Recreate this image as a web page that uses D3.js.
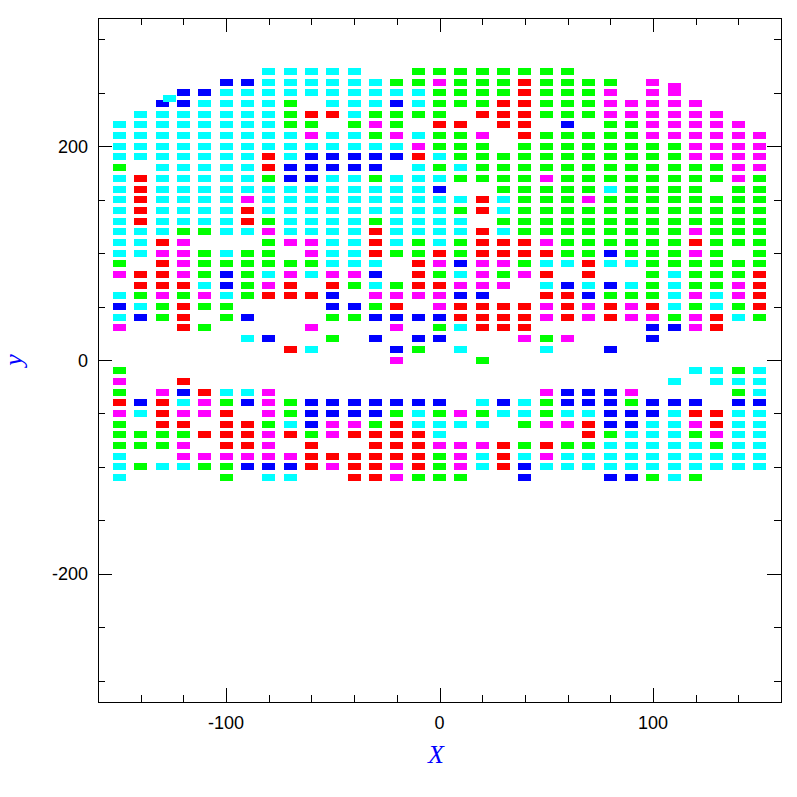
<!DOCTYPE html>
<html><head><meta charset="utf-8">
<script src="https://cdn.jsdelivr.net/npm/d3@7"></script>
<style>html,body{margin:0;padding:0;background:#fff;}</style>
</head><body>
<svg id="chart" width="797" height="797"></svg>
<script>
// column positions (x) and row positions (y) of the cell grid
const columns = [-150,-140,-130,-120,-110,-100,-90,-80,-70,-60,-50,-40,-30,-20,-10,0,10,20,30,40,50,60,70,80,90,100,110,120,130,140,150];
const rows = [270,260,250,240,230,220,210,200,190,180,170,160,150,140,130,120,110,100,90,80,70,60,50,40,30,20,10,0,-10,-20,-30,-40,-50,-60,-70,-80,-90,-100,-110];
// colour class of each cell, one string per row (one char per column, '.' = empty)
const cellCodes = [
  ".......ccccc..gggggggg.........",
  ".....bbccccccggmgggrgggg.m.....",
  "...bbccccccccccggggrgggm.m.....",
  "..bbccccg.cccbcgggrrgggmmmmm...",
  ".cccccccgrrcgggg.rrrgggmmmmmm..",
  "ccccccccgg.gmg.rr.rr.b.ggmmmmm.",
  "cccccccccmccgmcggm.rgggggmmmmmm",
  "ccccccccccccccmggg.ggggggggmmmm",
  "cccccccrcbbbbbrcgggggggggggmmmm",
  "g.cccccrbbbbb.cgcggggggggggggmm",
  "crcccccgbbccgcccggggmggggggggmg",
  "crcccccccccccccb..gggggcgggg.gg",
  "crccccmccccccccccrcgggmgggggggg",
  "crccccrcccccccccgrcgggggggggggg",
  "crccccrgccccgcccc.ggggggggggggg",
  "cccggccmccccrccccrcggggggggmggg",
  "ccrm...gmmccrcgcgrrrmggggggrggg",
  "ccmmgcgg.mccrggrgrrrrggbgggmg.g",
  "g.rmggggggccc.rmbmmgccrccgggggg",
  "mrrmgbgcmcmmb.rgcmgmr.r..gcgggr",
  ".rrrcbgmr.rgcgrrmmm.cbcbcgcggmr",
  "cgmgmcgrrrb.mmmmbb..rrbgggcmcmr",
  "bcgrgg....bbgr.mrrrrmrmrmrcgcgr",
  "cbgr.gb...ggbbbbrrrrmrmrmmgmrcg",
  "m..rg....m...m.gcrrr.....bbmr..",
  "......cb..g.b.bb...mgm...b.....",
  "........rc...bg.c...c..b.......",
  ".............m...g.............",
  "g..........................ccgc",
  "m..r......................c.ccc",
  "g.mbrccm............mbbbm....gc",
  "rbrcmgbmgbbbbbbb.cbcgbbbgbbb.bb",
  "mcrmmr.mgbbbbgcgmgccgccbbbcrrcc",
  "g.rr.rrgcbmmgrcccc.gmmrbbccmrcc",
  "ggggrrrmrgmrrrrc......rgcccgmcc",
  "gggm.rrm.r..rrrmmmrgrggcccccgcc",
  "c..mmmmmmrrrrrrgmcrcmcccccccccc",
  "cgccggbbbrmrrmrgmcrbccccccccccc",
  "c....g.cc..rrmggg..b...bbgcg..."
];
// odd cells lying off the grid
const extraX = [-126.5, 110, 110];
const extraY = [245, 256, 250];
const extraCodes = ["c", "m", "m"];
// colour classes
const colorKeys = ["c", "g", "r", "m", "b"];
const colorValues = ["#00ffff", "#00ff00", "#ff0000", "#ff00ff", "#0000ff"];
// axis ticks
const xMajorTicks = [-100, 0, 100];
const xMinorTicks = [-140,-120,-80,-60,-40,-20,20,40,60,80,120,140];
const yMajorTicks = [-200, 0, 200];
const yMinorTicks = [-300,-250,-150,-100,-50,50,100,150,250,300];

// ---- drawing ----
const svg = d3.select("#chart");
const L = 98, R = 781, T = 18, B = 702;
const x = d3.scaleLinear().domain([-160, 160]).range([L, R]);
const y = d3.scaleLinear().domain([-320, 320]).range([B, T]);
const color = d3.scaleOrdinal().domain(colorKeys).range(colorValues);

const cells = [];
rows.forEach((ry, i) => {
  const s = cellCodes[i];
  columns.forEach((cx, k) => {
    const ch = s[k];
    if (ch && ch !== ".") cells.push({x: cx, y: ry, c: ch});
  });
});
extraX.forEach((ex, i) => cells.push({x: ex, y: extraY[i], c: extraCodes[i]}));

const CW = 13, CH = 7;
svg.append("g").selectAll("rect").data(cells).join("rect")
  .attr("x", d => x(d.x) - CW / 2)
  .attr("y", d => y(d.y) - CH / 2)
  .attr("width", CW).attr("height", CH)
  .attr("fill", d => color(d.c))
  .attr("shape-rendering", "crispEdges");

// frame
svg.append("rect").attr("x", L).attr("y", T).attr("width", R - L).attr("height", B - T)
  .attr("fill", "none").attr("stroke", "#000").attr("stroke-width", 1)
  .attr("shape-rendering", "crispEdges");

function tickStyle(g) {
  g.select(".domain").remove();
  g.selectAll(".tick line").attr("stroke", "#000").attr("shape-rendering", "crispEdges");
}
const MAJ = 14, MIN = 7;
function addTicks(axisFn, scale, pos, values, size) {
  svg.append("g").attr("transform", pos)
    .call(axisFn(scale).tickValues(values).tickSize(-size).tickFormat(""))
    .call(tickStyle);
}
addTicks(d3.axisBottom, x, `translate(0,${B})`, xMajorTicks, MAJ);
addTicks(d3.axisBottom, x, `translate(0,${B})`, xMinorTicks, MIN);
addTicks(d3.axisTop, x, `translate(0,${T})`, xMajorTicks, MAJ);
addTicks(d3.axisTop, x, `translate(0,${T})`, xMinorTicks, MIN);
addTicks(d3.axisLeft, y, `translate(${L},0)`, yMajorTicks, MAJ);
addTicks(d3.axisLeft, y, `translate(${L},0)`, yMinorTicks, MIN);
addTicks(d3.axisRight, y, `translate(${R},0)`, yMajorTicks, MAJ);
addTicks(d3.axisRight, y, `translate(${R},0)`, yMinorTicks, MIN);

// tick labels (plain hyphen minus, as in the reference)
const labelFont = "'Liberation Sans', Arial, Helvetica, sans-serif";
svg.append("g").selectAll("text").data(xMajorTicks).join("text")
  .attr("x", d => x(d)).attr("y", 729)
  .attr("text-anchor", "middle")
  .attr("font-family", labelFont).attr("font-size", 18).attr("fill", "#000")
  .text(d => String(d));
svg.append("g").selectAll("text").data(yMajorTicks).join("text")
  .attr("x", 88).attr("y", d => y(d) + 6.5)
  .attr("text-anchor", "end")
  .attr("font-family", labelFont).attr("font-size", 18).attr("fill", "#000")
  .text(d => String(d));

// axis titles
const titleFont = "'Liberation Serif', 'DejaVu Serif', Times, serif";
svg.append("text").attr("x", 436).attr("y", 763)
  .attr("text-anchor", "middle").attr("font-family", titleFont)
  .attr("font-style", "italic").attr("font-size", 26).attr("fill", "#0000ff")
  .text("X");
svg.append("text").attr("transform", "translate(22,360) rotate(-90)")
  .attr("text-anchor", "middle").attr("font-family", titleFont)
  .attr("font-style", "italic").attr("font-size", 26).attr("fill", "#0000ff")
  .text("y");
</script>
</body></html>
